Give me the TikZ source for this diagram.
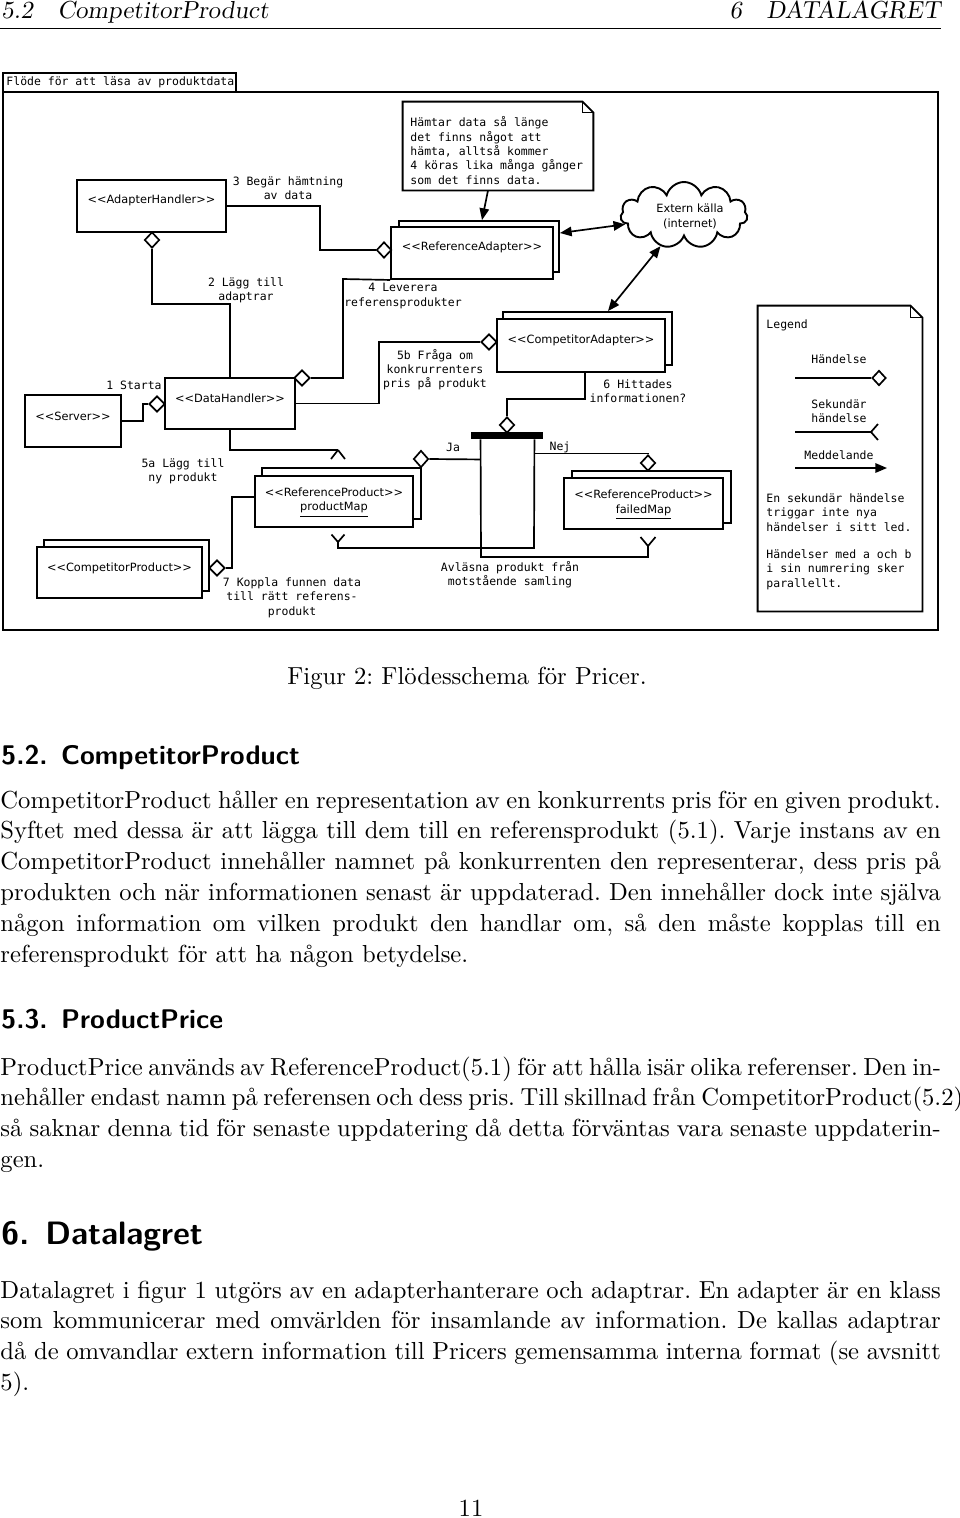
\documentclass[tikz,border=0pt]{standalone}
\usepackage{fontspec}
\newfontfamily\dvs{DejaVu Sans}
\newfontfamily\dvm{DejaVu Sans Mono}
\usetikzlibrary{shapes.geometric,shapes.symbols,arrows.meta,calc}
\newcommand{\jl}[1]{\makebox[418.2pt][s]{#1}}
\tikzset{
 rect/.style 2 args={minimum width=#1*0.4447pt,minimum height=#2*0.4447pt},
 box/.style={draw,line width=0.85pt,fill=white,inner sep=0pt},
 dia/.style={diamond,draw,fill=white,line width=0.75pt,inner sep=0pt,minimum width=15*0.4447pt,minimum height=16*0.4447pt},
 conn/.style={line width=0.75pt},
 lbl/.style={font=\dvs\fontsize{5.05}{6.36}\selectfont,inner sep=0pt,align=center},
 mono/.style={font=\dvm\fontsize{5.1}{6.36}\selectfont,inner sep=0pt,align=center},
 monol/.style={mono,align=left,anchor=west},
 body/.style={font=\fontsize{10.95}{13.6}\selectfont,inner sep=0pt,anchor=base west},
 head/.style={font=\fontsize{10.95}{13.6}\selectfont\slshape,inner sep=0pt},
 secb/.style={font=\fontsize{12}{14.5}\selectfont\sffamily\bfseries,inner sep=0pt,anchor=base west},
 seca/.style={font=\fontsize{14.4}{17}\selectfont\sffamily\bfseries,inner sep=0pt,anchor=base west},
 tri/.style={-{Triangle[length=5.2pt,width=4.2pt]}},
 dbl/.style={{Triangle[length=5.2pt,width=4.2pt]}-{Triangle[length=5.2pt,width=4.2pt]}},
}
\begin{document}
\frenchspacing
\begin{tikzpicture}[x=0.4447pt,y=-0.4447pt]
\useasboundingbox (0,0) rectangle (960,1518);

% ---------- running head ----------
\node[head,anchor=base west] (hl) at (1,18) {5.2\quad CompetitorProduct};
\node[head,anchor=base east] (hr) at (941,18) {6\quad DATALAGRET};
\draw[line width=0.4pt] (0,28) -- (941,28);

% ---------- frame ----------
\node[draw,line width=1pt,rect={935}{538},inner sep=0pt] (frame) at (470.5,361) {};
\node[draw,line width=1pt,rect={233}{19},inner sep=0pt] (tab) at (119.5,82.5) {};
\node[mono,anchor=west] (tabt) at (6,82.5) {Flöde för att läsa av produktdata};

% ---------- top note ----------
\node[rect={190}{88},inner sep=0pt] (note) at (498,146) {};
\draw[line width=0.85pt,fill=white] (note.south west) -- (note.north west) -- ($(note.north east)+(-11,0)$) -- ($(note.north east)+(0,11)$) -- (note.south east) -- cycle;
\draw[line width=0.5pt] ($(note.north east)+(-11,0)$) -- ($(note.north east)+(-11,11)$) -- ($(note.north east)+(0,11)$);
\node[monol] (notet) at (410,150.5) {Hämtar data så länge\\det finns något att\\hämta, alltså kommer\\4 köras lika många gånger\\som det finns data.};

% ---------- cloud ----------
\node[cloud,draw,line width=0.85pt,cloud puffs=11,aspect=1.9,rect={127}{66},inner sep=0pt] (cloud) at (684,215) {};
\node[lbl] (cloudt) at (690,216.5) {Extern källa\\(internet)};

% ---------- AdapterHandler ----------
\node[box,rect={149}{52}] (ah) at (151.5,206) {};
\node[lbl] (aht) at (151.5,200) {<{}<AdapterHandler>{}>};

% ---------- Server ----------
\node[box,rect={96}{52}] (sv) at (73,421) {};
\node[lbl] (svt) at (73,416) {<{}<Server>{}>};

% ---------- DataHandler ----------
\node[box,rect={130}{51}] (dh) at (230,403.5) {};
\node[lbl] (dht) at (230,398) {<{}<DataHandler>{}>};

% ---------- ReferenceAdapter ----------
\node[box,rect={160}{51}] (raB) at (479,246.5) {};
\node[box,rect={162}{52}] (ra) at (472,253) {};
\node[lbl] (rat) at (472,247) {<{}<ReferenceAdapter>{}>};

% ---------- CompetitorAdapter ----------
\node[box,rect={169}{53}] (caB) at (587.5,338.5) {};
\node[box,rect={168}{53}] (ca) at (581,345.5) {};
\node[lbl] (cat) at (581,340) {<{}<CompetitorAdapter>{}>};

% ---------- productMap ----------
\node[box,rect={159}{51}] (pmB) at (341.5,493.5) {};
\node[box,rect={158}{51}] (pm) at (334,501.5) {};
\node[lbl] (pmt) at (334,502.5) {<{}<ReferenceProduct>{}>\\\underline{productMap}};

% ---------- failedMap ----------
\node[box,rect={159}{52}] (fmB) at (651.5,497) {};
\node[box,rect={159}{51}] (fm) at (643.5,503.5) {};
\node[lbl] (fmt) at (643.5,505) {<{}<ReferenceProduct>{}>\\\underline{failedMap}};

% ---------- CompetitorProduct ----------
\node[box,rect={165}{51}] (cpB) at (126.5,565.5) {};
\node[box,rect={165}{51}] (cp) at (119.5,572.5) {};
\node[lbl] (cpt) at (119.5,568) {<{}<CompetitorProduct>{}>};

% ---------- decision bar ----------
\node[fill=black,draw=none,rect={72}{7},inner sep=0pt] (bar) at (507,435.5) {};

% ---------- diamonds ----------
\node[dia,minimum width=16*0.4447pt] (d1) at (157,404) {};
\node[dia] (d2) at (152,240) {};
\node[dia] (d3) at (384,250) {};
\node[dia,minimum width=16*0.4447pt] (d4) at (302,378) {};
\node[dia,minimum width=16*0.4447pt] (d5) at (489,342) {};
\node[dia] (d6) at (507,425) {};
\node[dia,minimum height=17*0.4447pt] (d7) at (421,459) {};
\node[dia] (d8) at (648,463) {};
\node[dia,minimum width=16*0.4447pt] (d9) at (217,568) {};

% ---------- connectors ----------
% 1 Starta
\draw[conn] (sv.east) -- (143,421) |- (d1.west);
\node[mono] (l1) at (134,385) {1 Starta};
% 2 Lagg till adaptrar
\draw[conn] (d2.south) |- (230,304) -- (dh.north);
\node[mono] (l2) at (246,290) {2 Lägg till\\adaptrar};
% 3 Begar hamtning
\draw[conn] (ah.east) -| (320,250) -- (d3.west);
\node[mono] (l3) at (288,188) {3 Begär hämtning\\av data};
% 4 Leverera
\draw[conn] (ra.south west) -- (343,279) |- (d4.east);
\node[mono] (l4) at (403,296) {4 Leverera\\referensprodukter};
% note arrow
\draw[conn,tri] ($(note.south)+(-10,0)$) -- ($(raB.north)+(3,0)$);
% external source
\draw[conn,dbl] ($(raB.east)+(0,-13.5)$) -- (cloud.189);
\draw[conn,dbl] (cloud.233) -- ($(caB.north)+(20.5,0)$);
% 5b
\draw[conn] (dh.east) -| (379,342) -- (d5.west);
\node[mono] (l5b) at (435,369.5) {5b Fråga om\\konkrurrenters\\pris på produkt};
% 6
\draw[conn] ($(ca.south)+(4,0)$) |- (507,399) -- (d6.north);
\node[mono] (l6) at (638,391.5) {6 Hittades\\informationen?};
% Ja
\draw[conn] ($(bar.south west)+(10,20)$) -- (d7.east);
\node[mono] (lja) at (453,447) {Ja};
% Nej
\draw[conn] ($(bar.south east)+(-9,14)$) -| (d8.north);
\node[mono] (lnej) at (560,447) {Nej};
% Avlasna: two crossing paths
\coordinate (yF) at (648,546);
\coordinate (yP) at (338,542);
\draw[conn] ($(bar.south west)+(10,0)$) -- (481,557) -| (yF);
\draw[conn] (yF) -- ++(-7.5,-9) (yF) -- ++(7.5,-9);
\draw[conn] ($(bar.south east)+(-9,0)$) -- (534,548) -| (yP);
\draw[conn] (yP) -- ++(-6.5,-7.5) (yP) -- ++(6.5,-7.5);
\node[mono] (lav) at (510,574.5) {Avläsna produkt från\\motstående samling};
% 5a
\coordinate (yD) at (338,450);
\draw[conn] (dh.south) |- (yD);
\draw[conn] (yD) -- ++(-7,9) (yD) -- ++(7,9);
\node[mono] (l5a) at (183,471) {5a Lägg till\\ny produkt};
% 7
\draw[conn] (d9.east) -- (232,568) |- ($(pm.west)+(0,-4.5)$);
\node[mono] (l7) at (292,597.5) {7 Koppla funnen data\\till rätt referens-\\produkt};

% ---------- legend ----------
\node[rect={164}{305},inner sep=0pt] (leg) at (840,458.5) {};
\draw[line width=0.85pt,fill=white] (leg.south west) -- (leg.north west) -- ($(leg.north east)+(-12,0)$) -- ($(leg.north east)+(0,12)$) -- (leg.south east) -- cycle;
\draw[line width=0.5pt] ($(leg.north east)+(-12,0)$) -- ($(leg.north east)+(-12,12)$) -- ($(leg.north east)+(0,12)$);
\node[monol] (legt) at (766,325) {Legend};
\node[mono] (lh) at (839,359) {Händelse};
\coordinate (lg1) at (795,378);
\node[dia,minimum width=14*0.4447pt,minimum height=15*0.4447pt] (d10) at (879,378) {};
\draw[conn] (lg1) -- (d10.west);
\node[mono] (lsh) at (839,411) {Sekundär\\händelse};
\coordinate (lg2) at (795,432);
\coordinate (lg2e) at (871,432);
\draw[conn] (lg2) -- (lg2e);
\draw[conn] (lg2e) -- ++(7,-8) (lg2e) -- ++(7,8);
\node[mono] (lm) at (839,455) {Meddelande};
\coordinate (lg3) at (795,468);
\coordinate (lg3e) at (887,468);
\draw[conn,tri] (lg3) -- (lg3e);
\node[monol] (lt1) at (766,512.5) {En sekundär händelse\\triggar inte nya\\händelser i sitt led.};
\node[monol] (lt2) at (766,569.5) {Händelser med a och b\\i sin numrering sker\\parallellt.};

% ---------- caption ----------
\node[body,anchor=base] (cap) at (467,684) {Figur 2: Flödesschema för Pricer.};

% ---------- section 5.2 ----------
\node[secb] (s52) at (1,764) {5.2.\enskip CompetitorProduct};
\node[body] (a1) at (0,808) {\jl{CompetitorProduct håller en representation av en konkurrents pris för en given produkt.}};
\node[body] (a2) at (0,838.8) {\jl{Syftet med dessa är att lägga till dem till en referensprodukt (5.1). Varje instans av en}};
\node[body] (a3) at (0,869.6) {\jl{CompetitorProduct innehåller namnet på konkurrenten den representerar, dess pris på}};
\node[body] (a4) at (0,900.4) {\jl{produkten och när informationen senast är uppdaterad. Den innehåller dock inte själva}};
\node[body] (a5) at (0,931.2) {\jl{någon information om vilken produkt den handlar om, så den måste kopplas till en}};
\node[body] (a6) at (0,962) {referensprodukt för att ha någon betydelse.};

% ---------- section 5.3 ----------
\node[secb] (s53) at (1,1028) {5.3.\enskip ProductPrice};
\node[body] (b1) at (0,1075) {\jl{ProductPrice används av ReferenceProduct(5.1) för att hålla isär olika referenser. Den in-}};
\node[body] (b2) at (0,1105.8) {\jl{nehåller endast namn på referensen och dess pris. Till skillnad från CompetitorProduct(5.2)}};
\node[body] (b3) at (0,1136.6) {\jl{så saknar denna tid för senaste uppdatering då detta förväntas vara senaste uppdaterin-}};
\node[body] (b4) at (0,1167.4) {gen.};

% ---------- section 6 ----------
\node[seca] (s6) at (1,1244) {6.\enskip Datalagret};
\node[body] (c1) at (0,1298) {\jl{Datalagret i figur 1 utgörs av en adapterhanterare och adaptrar. En adapter är en klass}};
\node[body] (c2) at (0,1328.8) {\jl{som kommunicerar med omvärlden för insamlande av information. De kallas adaptrar}};
\node[body] (c3) at (0,1359.6) {\jl{då de omvandlar extern information till Pricers gemensamma interna format (se avsnitt}};
\node[body] (c4) at (0,1390.4) {5).};

% ---------- page number ----------
\node[body,anchor=base] (pg) at (471,1516) {11};
\end{tikzpicture}
\end{document}
